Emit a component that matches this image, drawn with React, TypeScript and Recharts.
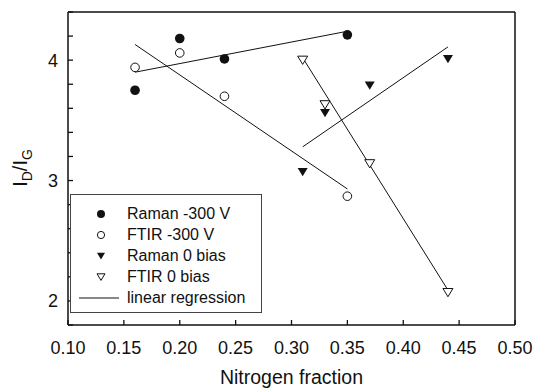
import React from 'react';
import { ComposedChart, Scatter, XAxis, YAxis } from 'recharts';

// measured points
const ramanNeg300 = [
  { x: 0.16, y: 3.75 },
  { x: 0.2, y: 4.18 },
  { x: 0.24, y: 4.01 },
  { x: 0.35, y: 4.21 },
];
const ftirNeg300 = [
  { x: 0.16, y: 3.94 },
  { x: 0.2, y: 4.06 },
  { x: 0.24, y: 3.7 },
  { x: 0.35, y: 2.87 },
];
const ramanZero = [
  { x: 0.31, y: 3.07 },
  { x: 0.33, y: 3.56 },
  { x: 0.37, y: 3.79 },
  { x: 0.44, y: 4.01 },
];
const ftirZero = [
  { x: 0.31, y: 4.0 },
  { x: 0.33, y: 3.63 },
  { x: 0.37, y: 3.14 },
  { x: 0.44, y: 2.07 },
];

// regression line end points
const fitRamanNeg300 = [{ x: 0.16, y: 3.9 }, { x: 0.35, y: 4.24 }];
const fitFtirNeg300 = [{ x: 0.16, y: 4.13 }, { x: 0.35, y: 2.93 }];
const fitRamanZero = [{ x: 0.31, y: 3.28 }, { x: 0.44, y: 4.11 }];
const fitFtirZero = [{ x: 0.31, y: 4.02 }, { x: 0.44, y: 2.09 }];

const xTicks = [0.1, 0.15, 0.2, 0.25, 0.3, 0.35, 0.4, 0.45, 0.5];
const yTicks = [1.8, 2.0, 2.2, 2.4, 2.6, 2.8, 3.0, 3.2, 3.4, 3.6, 3.8, 4.0, 4.2, 4.4];
const yLabels = [2, 3, 4];

const FONT = 'Arial, "Liberation Sans", Helvetica, sans-serif';
const INK = '#111';
const tickStyle = { fontSize: 18, fontFamily: FONT, fill: INK };
const frame = { stroke: INK, strokeWidth: 1.5 };
const tickLn = { stroke: INK, strokeWidth: 1.3 };

const FilledCircle = (p: any) => <circle cx={p.cx} cy={p.cy} r={4.8} fill={INK} />;
const OpenCircle = (p: any) => (
  <circle cx={p.cx} cy={p.cy} r={4.3} fill="#fff" stroke={INK} strokeWidth={1} />
);
const downTri = (cx: number, cy: number, s: number) =>
  `${cx - s},${cy - s * 0.8} ${cx + s},${cy - s * 0.8} ${cx},${cy + s * 0.85}`;
const FilledTri = (p: any) => <polygon points={downTri(p.cx, p.cy, 5)} fill={INK} />;
const OpenTri = (p: any) => (
  <polygon points={downTri(p.cx, p.cy, 5)} fill="#fff" stroke={INK} strokeWidth={1} />
);
const NoDot = () => <g />;

const yLabel = (v: number) => {
  const lab = yLabels.find((l) => Math.abs(l - v) < 1e-6);
  return lab === undefined ? '' : String(lab);
};

const legendItems = [
  { name: 'Raman -300 V', kind: 'fc' },
  { name: 'FTIR -300 V', kind: 'oc' },
  { name: 'Raman 0 bias', kind: 'ft' },
  { name: 'FTIR 0 bias', kind: 'ot' },
  { name: 'linear regression', kind: 'line' },
];

const LegendSymbol = ({ kind }: { kind: string }) => (
  <svg width={56} height={20} style={{ display: 'block' }}>
    {kind === 'fc' && <circle cx={30} cy={10} r={4} fill={INK} />}
    {kind === 'oc' && <circle cx={30} cy={10} r={3.6} fill="#fff" stroke={INK} strokeWidth={1} />}
    {kind === 'ft' && <polygon points={downTri(30, 10, 4)} fill={INK} />}
    {kind === 'ot' && <polygon points={downTri(30, 10, 4)} fill="#fff" stroke={INK} strokeWidth={1} />}
    {kind === 'line' && <line x1={8} y1={10} x2={48} y2={10} stroke={INK} strokeWidth={1} />}
  </svg>
);

const App = () => {
  return (
    <div style={{ position: 'absolute', left: 0, top: 0, width: 536, height: 388, background: '#fff' }}>
      <ComposedChart width={536} height={388} margin={{ top: 11, right: 20, bottom: 0, left: 0 }}>
        <XAxis
          xAxisId={0}
          type="number"
          dataKey="x"
          domain={[0.1, 0.5]}
          ticks={xTicks}
          interval={0}
          height={63}
          tickSize={-5}
          tickMargin={21}
          tickLine={tickLn}
          tick={tickStyle}
          tickFormatter={(v: number) => v.toFixed(2)}
          axisLine={frame}
          allowDataOverflow
          label={({ viewBox }: any) => (
            <text
              x={viewBox.x + viewBox.width / 2}
              y={viewBox.y + 59}
              textAnchor="middle"
              fontSize={19.5}
              fontFamily={FONT}
              fill={INK}
            >
              Nitrogen fraction
            </text>
          )}
        />
        <XAxis
          xAxisId="top"
          orientation="top"
          type="number"
          dataKey="x"
          domain={[0.1, 0.5]}
          ticks={xTicks}
          interval={0}
          height={1}
          tickSize={-5}
          tickLine={tickLn}
          tick={false}
          axisLine={frame}
          allowDataOverflow
        />
        <YAxis
          yAxisId={0}
          type="number"
          dataKey="y"
          domain={[1.8, 4.4]}
          ticks={yTicks}
          interval={0}
          width={68}
          tickSize={-5}
          tickMargin={15}
          tickLine={tickLn}
          tick={tickStyle}
          tickFormatter={yLabel}
          axisLine={frame}
          allowDataOverflow
          label={() => (
            <text
              x={27}
              y={168}
              transform="rotate(-90, 27, 168)"
              textAnchor="middle"
              fontSize={20}
              fontFamily={FONT}
              fill={INK}
            >
              I<tspan fontSize={14} dy={5}>D</tspan>
              <tspan dy={-5}>/I</tspan>
              <tspan fontSize={14} dy={5}>G</tspan>
            </text>
          )}
        />
        <YAxis
          yAxisId="right"
          orientation="right"
          type="number"
          dataKey="y"
          domain={[1.8, 4.4]}
          ticks={yTicks}
          interval={0}
          width={1}
          tickSize={-5}
          tickLine={tickLn}
          tick={false}
          axisLine={frame}
          allowDataOverflow
        />

        {/* invisible anchor so the top/right axes get a domain */}
        <Scatter xAxisId="top" yAxisId="right" data={ramanNeg300} shape={NoDot} isAnimationActive={false} />

        <Scatter data={fitRamanNeg300} line={{ stroke: INK, strokeWidth: 1 }} shape={NoDot} isAnimationActive={false} />
        <Scatter data={fitFtirNeg300} line={{ stroke: INK, strokeWidth: 1 }} shape={NoDot} isAnimationActive={false} />
        <Scatter data={fitRamanZero} line={{ stroke: INK, strokeWidth: 1 }} shape={NoDot} isAnimationActive={false} />
        <Scatter data={fitFtirZero} line={{ stroke: INK, strokeWidth: 1 }} shape={NoDot} isAnimationActive={false} />

        <Scatter name="Raman -300 V" data={ramanNeg300} shape={FilledCircle} isAnimationActive={false} />
        <Scatter name="FTIR -300 V" data={ftirNeg300} shape={OpenCircle} isAnimationActive={false} />
        <Scatter name="Raman 0 bias" data={ramanZero} shape={FilledTri} isAnimationActive={false} />
        <Scatter name="FTIR 0 bias" data={ftirZero} shape={OpenTri} isAnimationActive={false} />
      </ComposedChart>

      <div
        style={{
          position: 'absolute',
          left: 70,
          top: 194,
          width: 192,
          height: 119,
          border: '1px solid #444',
          background: '#fff',
          fontFamily: FONT,
          fontSize: 16,
          color: INK,
          paddingTop: 8,
          boxSizing: 'border-box',
        }}
      >
        {legendItems.map((it) => (
          <div key={it.name} style={{ display: 'flex', alignItems: 'center', height: 21 }}>
            <LegendSymbol kind={it.kind} />
            <span style={{ whiteSpace: 'nowrap' }}>{it.name}</span>
          </div>
        ))}
      </div>
    </div>
  );
};

export default App;
